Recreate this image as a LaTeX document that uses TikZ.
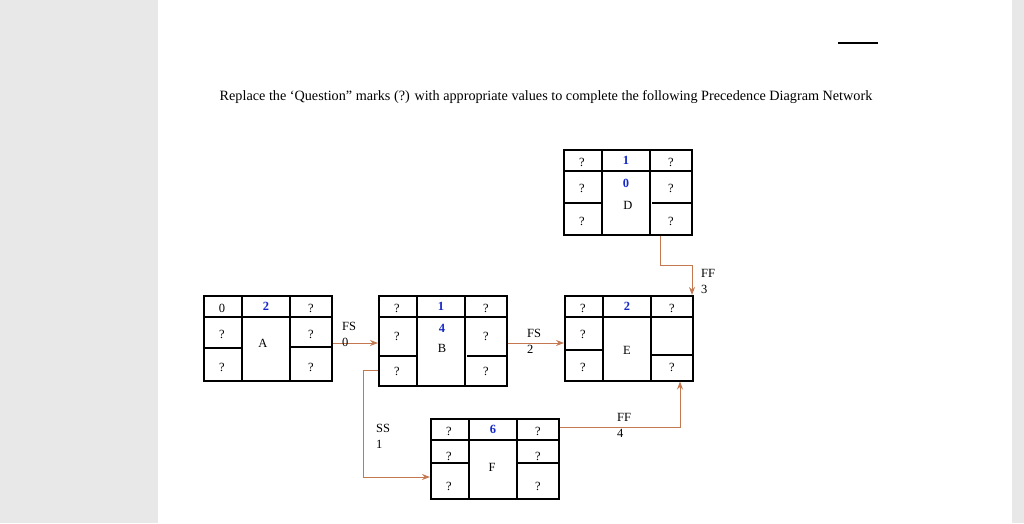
\documentclass[tikz,border=0pt]{standalone}
\usepackage{fontspec}
\setmainfont{Liberation Serif}
\usetikzlibrary{calc,arrows.meta}
\definecolor{conn}{RGB}{196,120,80}
\definecolor{num}{RGB}{20,40,200}
\tikzset{x=1pt,y=-1pt,
 boxline/.style={line width=1.5pt},
 cell/.style={font=\fontsize{12.5}{14}\selectfont,inner sep=0pt},
 bnum/.style={font=\bfseries\fontsize{12.5}{14}\selectfont,text=num,inner sep=0pt},
 conn/.style={draw=conn,line width=1pt,-{Stealth[length=8pt,width=6pt]}},
 lbl/.style={font=\fontsize{12.5}{16}\selectfont,inner sep=0pt,align=left,anchor=north west}}
% name, x, y, h
\newcommand{\pdm}[4]{%
 \node[draw,boxline,minimum width=128pt,minimum height=#4pt,anchor=north west,inner sep=0pt] (#1) at (#2,#3) {};
 \draw[boxline] ($(#1.north west)+(39,0)$) -- ($(#1.south west)+(39,0)$);
 \draw[boxline] ($(#1.north west)+(87,0)$) -- ($(#1.south west)+(87,0)$);
 \draw[boxline] ($(#1.north west)+(0,22)$) -- ($(#1.north east)+(0,22)$);
}
\newcommand{\cells}[9]{% name,h, tl,tm,tr,ml,mr,bl,br
 \node[cell] at ($(#1.north west)+(19,13)$) {#3};
 \node[bnum] at ($(#1.north west)+(63,11)$) {#4};
 \node[cell] at ($(#1.north west)+(108,13)$) {#5};
 \node[cell] at ($(#1.north west)+(19,{22+(#2-22)*0.28})$) {#6};
 \node[cell] at ($(#1.north west)+(108,{22+(#2-22)*0.28})$) {#7};
 \node[cell] at ($(#1.north west)+(19,{22+(#2-22)*0.8})$) {#8};
 \node[cell] at ($(#1.north west)+(108,{22+(#2-22)*0.8})$) {#9};
}
\begin{document}
\begin{tikzpicture}
\useasboundingbox (0,0) rectangle (1024,523);
\fill[black!9] (0,0) rectangle (158,523);
\fill[black!9] (1012,0) rectangle (1024,523);
\draw[line width=1.2pt] (838,43) -- (878,43);
\node[font=\fontsize{14.2}{16}\selectfont,inner sep=0pt] (title) at (546,97) {Replace the ‘Question” marks (?) with appropriate values to complete the following Precedence Diagram Network};
% A
\pdm{A}{203}{295}{85}
\draw[line width=1.2pt] (203,348) -- (242,348); \draw[line width=1.2pt] (290,347) -- (331,347);
\cells{A}{85}{0}{2}{?}{?}{?}{?}{?}
\node[cell] at (263,343) {A};
% B
\pdm{B}{378}{295}{90}
\draw[line width=1.2pt] (378,356) -- (417,356); \draw[line width=1.2pt] (467,356) -- (507,356);
\cells{B}{90}{?}{1}{?}{?}{?}{?}{?}
\node[bnum] at (442,328) {4};
\node[cell] at (442,348) {B};
% D
\pdm{D}{563}{149}{85}
\draw[line width=1.2pt] (563,203) -- (602,203); \draw[line width=1.2pt] (652,203) -- (691,203);
\cells{D}{85}{?}{1}{?}{?}{?}{?}{?}
\node[bnum] at (626,183) {0};
\node[cell] at (628,205) {D};
% E
\pdm{E}{564}{295}{85}
\draw[line width=1.2pt] (564,350) -- (603,350); \draw[line width=1.2pt] (652,355) -- (692,355);
\cells{E}{85}{?}{2}{?}{?}{}{?}{?}
\node[cell] at (627,350) {E};
% F
\pdm{F}{430}{418}{80}
\draw[line width=1.2pt] (430,463) -- (469,463); \draw[line width=1.2pt] (517,463) -- (558,463);
\cells{F}{80}{?}{6}{?}{?}{?}{?}{?}
\node[cell] at (492,467) {F};
% connectors
\draw[conn] (A.east |- 0,343) -- (B.west |- 0,343);
\node[lbl] at (342,322) {FS\\0};
\draw[conn] (B.east |- 0,343) -- (E.west |- 0,343);
\node[lbl] at (527,329) {FS\\2};
\draw[conn] (D.south -| 660,0) -- (660,265) -- (692,265) -- (E.north -| 692,0);
\node[lbl] at (701,269) {FF\\3};
\draw[conn] (B.west |- 0,370) -- (363,370) -- (363,477) -- (F.west |- 0,477);
\node[lbl] at (376,424) {SS\\1};
\draw[conn] (F.east |- 0,427) -- (680,427) -- (E.south -| 680,0);
\node[lbl] at (617,413) {FF\\4};
\end{tikzpicture}
\end{document}
